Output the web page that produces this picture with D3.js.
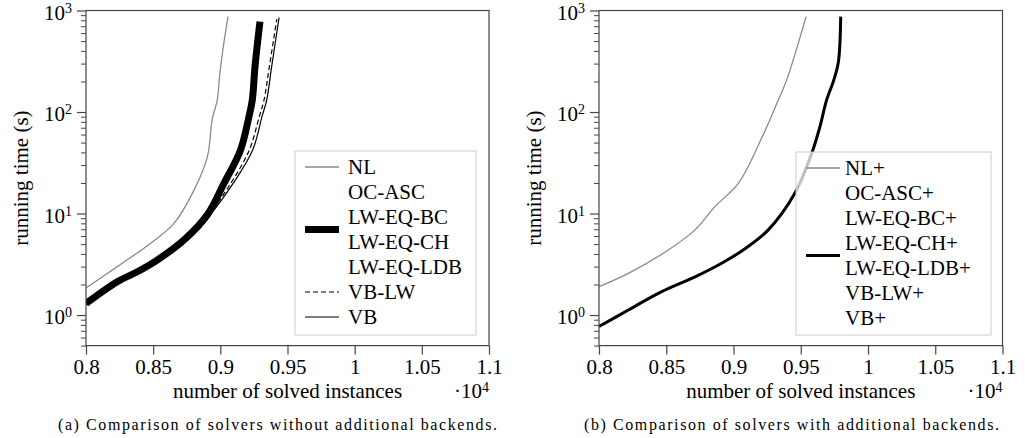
<!DOCTYPE html>
<html>
<head>
<meta charset="utf-8">
<script src="https://cdn.jsdelivr.net/npm/d3@7"></script>
<style>
  body { margin: 0; background: #fff; }
</style>
</head>
<body>
<div class="container"></div>
<script>
// tick values / labels
const xTicks = [8000, 8500, 9000, 9500, 10000, 10500, 11000]
const xTickLabels = ['0.8', '0.85', '0.9', '0.95', '1', '1.05', '1.1']
const yTicks = [1, 10, 100, 1000]
const yTickExp = ['0', '1', '2', '3']
const yMinor = [0.5, 0.6, 0.7, 0.8, 0.9, 2, 3, 4, 5, 6, 7, 8, 9, 20, 30, 40, 50, 60, 70, 80, 90, 200, 300, 400, 500, 600, 700, 800, 900]

// (a) without additional backends: [solved instances, running time s]
const nlA = [[8000, 1.85], [8233, 3.0], [8482, 5.1], [8655, 8.0], [8804, 17], [8903, 36], [8940, 85], [8977, 131], [8995, 230], [9020, 420], [9057, 870]]
const lweqA = [[8000, 1.3], [8233, 2.13], [8382, 2.67], [8530, 3.48], [8730, 5.5], [8903, 9.7], [9027, 19.8], [9150, 42], [9213, 90], [9238, 131], [9258, 279], [9295, 776]]
const vblwA = [[8000, 1.28], [8233, 2.1], [8530, 3.45], [8730, 5.4], [8910, 9.6], [9077, 19.8], [9215, 42], [9290, 90], [9325, 131], [9365, 280], [9420, 820]]
const vbA = [[8000, 1.27], [8233, 2.08], [8530, 3.42], [8730, 5.35], [8920, 9.6], [9095, 19.8], [9240, 42], [9310, 90], [9345, 131], [9382, 280], [9437, 850]]

// (b) with additional backends
const nlB = [[8000, 1.9], [8218, 2.57], [8515, 4.37], [8714, 6.9], [8862, 11.7], [9036, 19.8], [9200, 52], [9333, 131], [9395, 206], [9540, 870]]
const allB = [[8000, 0.77], [8218, 1.12], [8466, 1.7], [8714, 2.38], [8912, 3.24], [9086, 4.5], [9259, 6.9], [9457, 15.9], [9581, 39], [9643, 72], [9692, 131], [9745, 205], [9780, 313], [9797, 870]]

const labelsA = ['NL', 'OC-ASC', 'LW-EQ-BC', 'LW-EQ-CH', 'LW-EQ-LDB', 'VB-LW', 'VB']
const labelsB = ['NL+', 'OC-ASC+', 'LW-EQ-BC+', 'LW-EQ-CH+', 'LW-EQ-LDB+', 'VB-LW+', 'VB+']

const styles = {
  gray: { stroke: '#8a8a8a', width: 1.3, dash: null },
  thick: { stroke: '#000', width: 7, dash: null },
  dashed: { stroke: '#000', width: 1.2, dash: '5,3' },
  thin: { stroke: '#000', width: 1.2, dash: null },
  mid: { stroke: '#000', width: 3, dash: null }
}

const FONT = '"Liberation Serif", "Times New Roman", serif'

const svg = d3.select('.container').append('svg')
  .attr('width', 1025)
  .attr('height', 438)

const plotTop = 10.5, plotBottom = 345.6

function label(sel, size) {
  return sel.style('font-family', FONT).style('font-size', size + 'px').attr('fill', '#000')
}

function panel(id, x0, x1, series, labels, samples, legendBox, caption, capX, capW) {
  const x = d3.scaleLinear().domain([8000, 11000]).range([x0, x1])
  const y = d3.scaleLog().domain([0.5, 1000]).range([plotBottom, plotTop])
  const g = svg.append('g')

  g.append('clipPath').attr('id', 'clip' + id)
    .append('rect').attr('x', x0).attr('y', plotTop).attr('width', x1 - x0).attr('height', plotBottom - plotTop)

  const line = d3.line()
    .x(d => x(d[0]))
    .y(d => y(d[1]))
    .curve(d3.curveCatmullRom.alpha(0.5))

  series.forEach(s => {
    const st = styles[s.style]
    g.append('path')
      .attr('clip-path', 'url(#clip' + id + ')')
      .attr('d', line(s.data))
      .attr('fill', 'none')
      .attr('stroke', st.stroke)
      .attr('stroke-width', st.width)
      .attr('stroke-dasharray', st.dash)
  })

  // frame
  g.append('rect')
    .attr('x', x0).attr('y', plotTop)
    .attr('width', x1 - x0).attr('height', plotBottom - plotTop)
    .attr('fill', 'none').attr('stroke', '#444').attr('stroke-width', 1.2)

  // x axis
  const xa = g.append('g')
    .attr('transform', 'translate(0,' + plotBottom + ')')
    .call(d3.axisBottom(x).tickValues(xTicks).tickSize(9).tickFormat((d, i) => xTickLabels[i]))
  xa.select('.domain').remove()
  xa.selectAll('line').attr('stroke', '#444').attr('stroke-width', 1.2)
  label(xa.selectAll('text').attr('dy', null).attr('y', 28), 21)

  // y axis major + minor
  const ya = g.append('g')
    .attr('transform', 'translate(' + x0 + ',0)')
    .call(d3.axisLeft(y).tickValues(yTicks).tickSize(9).tickFormat(''))
  ya.select('.domain').remove()
  ya.selectAll('line').attr('stroke', '#444').attr('stroke-width', 1.2)
  const ym = g.append('g')
    .attr('transform', 'translate(' + x0 + ',0)')
    .call(d3.axisLeft(y).tickValues(yMinor).tickSize(5).tickFormat(''))
  ym.select('.domain').remove()
  ym.selectAll('line').attr('stroke', '#444').attr('stroke-width', 1)

  yTicks.forEach((v, i) => {
    const t = label(g.append('text'), 21)
      .attr('x', x0 - 14)
      .attr('y', y(v) + 9)
      .attr('text-anchor', 'end')
    t.append('tspan').text('10')
    t.append('tspan').attr('dy', -7).style('font-size', '14px').text(yTickExp[i])
  })

  // axis labels
  label(g.append('text'), 21)
    .attr('x', (x0 + x1) / 2).attr('y', 398)
    .attr('text-anchor', 'middle')
    .text('number of solved instances')
  const m = label(g.append('text'), 21)
    .attr('x', x1).attr('y', 398)
    .attr('text-anchor', 'end')
  m.append('tspan').text('·10')
  m.append('tspan').attr('dy', -6).style('font-size', '14px').text('4')

  label(g.append('text'), 21)
    .attr('transform', 'translate(' + (x0 - 58) + ',' + (plotTop + plotBottom) / 2 + ') rotate(-90)')
    .attr('text-anchor', 'middle')
    .text('running time (s)')

  // legend
  const lg = g.append('g')
  lg.append('rect')
    .attr('x', legendBox.x).attr('y', legendBox.y)
    .attr('width', legendBox.w).attr('height', legendBox.h)
    .attr('fill', '#fff').attr('fill-opacity', 0.75)
    .attr('stroke', '#cccccc').attr('stroke-width', 1)
  labels.forEach((l, i) => {
    label(lg.append('text'), 21)
      .attr('x', legendBox.x + legendBox.tx)
      .attr('y', legendBox.y + 16 + i * 25 + 7)
      .text(l)
  })
  samples.forEach(s => {
    const st = styles[s.style]
    const yy = legendBox.y + 16 + s.row * 25
    lg.append('line')
      .attr('x1', legendBox.x + 10).attr('x2', legendBox.x + 44)
      .attr('y1', yy).attr('y2', yy)
      .attr('stroke', st.stroke)
      .attr('stroke-width', st.width)
      .attr('stroke-dasharray', st.dash)
  })

  // caption
  label(g.append('text'), 16)
    .attr('x', capX).attr('y', 430)
    .attr('textLength', capW).attr('lengthAdjust', 'spacing')
    .text(caption)
}

panel('a', 86, 489,
  [{ data: nlA, style: 'gray' }, { data: vbA, style: 'thin' }, { data: vblwA, style: 'dashed' }, { data: lweqA, style: 'thick' }],
  labelsA,
  [{ row: 0, style: 'gray' }, { row: 2.5, style: 'thick' }, { row: 5, style: 'dashed' }, { row: 6, style: 'thin' }],
  { x: 295, y: 151, w: 181, h: 184, tx: 53 },
  '(a) Comparison of solvers without additional backends.', 58, 439)

panel('b', 599, 1002.5,
  [{ data: nlB, style: 'gray' }, { data: allB, style: 'mid' }],
  labelsB,
  [{ row: 0, style: 'gray' }, { row: 3.5, style: 'mid' }],
  { x: 796, y: 152, w: 195, h: 183, tx: 49 },
  '(b) Comparison of solvers with additional backends.', 584, 415)
</script>
</body>
</html>
